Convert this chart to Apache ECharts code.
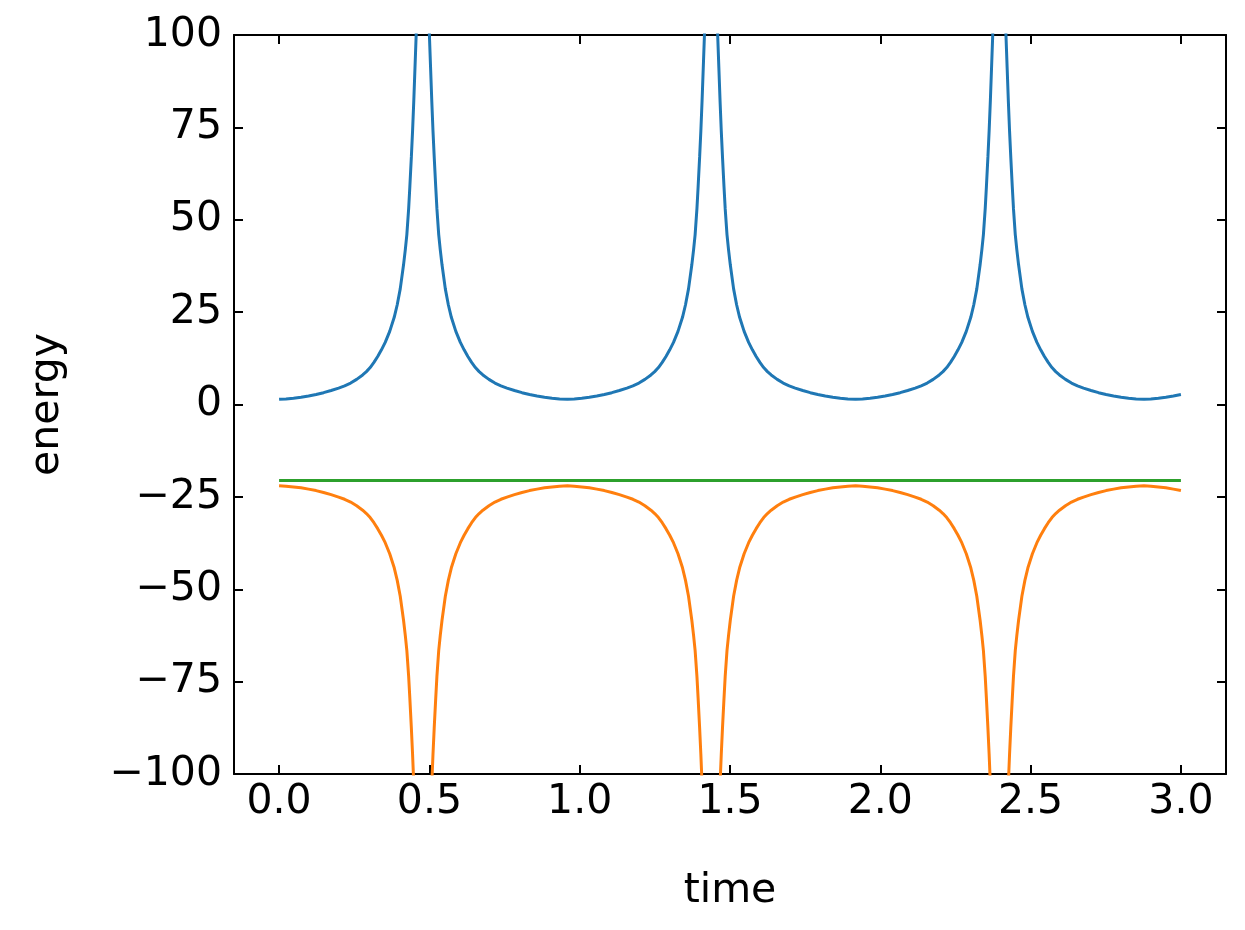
<!DOCTYPE html>
<html>
<head>
<meta charset="utf-8">
<script src="https://cdn.jsdelivr.net/npm/echarts@6/dist/echarts.min.js"></script>
<style>html,body{margin:0;padding:0;background:#fff}#c{width:1245px;height:930px}</style>
</head>
<body>
<div id="c"></div>
<script>
// time samples
const time = [
  0.000, 0.023, 0.048, 0.073, 0.098, 0.123, 0.148, 0.173, 0.198, 0.218, 0.238, 0.258, 0.278, 0.2905, 0.303, 0.3155, 0.328, 0.3405, 0.353, 0.368, 0.383, 0.393, 0.403, 0.414, 0.420, 0.425, 0.431, 0.435, 0.440, 0.444, 0.448, 0.452, 0.456, 0.460, 0.468, 0.478,
  0.488, 0.496, 0.500, 0.504, 0.508, 0.512, 0.516, 0.521, 0.525, 0.531, 0.536, 0.542, 0.553, 0.563, 0.573, 0.588, 0.603, 0.6155, 0.628, 0.6405, 0.653, 0.6655, 0.678, 0.698, 0.718, 0.738, 0.758, 0.783, 0.808, 0.833, 0.858, 0.883, 0.908, 0.933,
  0.959, 0.982, 1.007, 1.032, 1.057, 1.082, 1.107, 1.132, 1.157, 1.177, 1.197, 1.217, 1.237, 1.2495, 1.262, 1.2745, 1.287, 1.2995, 1.312, 1.327, 1.342, 1.352, 1.362, 1.373, 1.379, 1.384, 1.390, 1.394, 1.399, 1.403, 1.407, 1.411, 1.415, 1.419, 1.427, 1.437,
  1.447, 1.455, 1.459, 1.463, 1.467, 1.471, 1.475, 1.480, 1.484, 1.490, 1.495, 1.501, 1.512, 1.522, 1.532, 1.547, 1.562, 1.5745, 1.587, 1.5995, 1.612, 1.6245, 1.637, 1.657, 1.677, 1.697, 1.717, 1.742, 1.767, 1.792, 1.817, 1.842, 1.867, 1.892,
  1.918, 1.941, 1.966, 1.991, 2.016, 2.041, 2.066, 2.091, 2.116, 2.136, 2.156, 2.176, 2.196, 2.2085, 2.221, 2.2335, 2.246, 2.2585, 2.271, 2.286, 2.301, 2.311, 2.321, 2.332, 2.338, 2.343, 2.349, 2.353, 2.358, 2.362, 2.366, 2.370, 2.374, 2.378, 2.386, 2.396,
  2.406, 2.414, 2.418, 2.422, 2.426, 2.430, 2.434, 2.439, 2.443, 2.449, 2.454, 2.460, 2.471, 2.481, 2.491, 2.506, 2.521, 2.5335, 2.546, 2.5585, 2.571, 2.5835, 2.596, 2.616, 2.636, 2.656, 2.676, 2.701, 2.726, 2.751, 2.776, 2.801, 2.826, 2.851,
  2.877, 2.900, 2.925, 2.950, 2.975, 3.000
];
// kinetic energy (blue)
const kinetic = [
  1.4, 1.5, 1.7, 1.95, 2.3, 2.7, 3.2, 3.8, 4.45, 5.05, 5.8, 6.8, 8.0, 8.9, 10.0, 11.4, 13.0, 14.8, 16.8, 19.8, 23.6, 27.0, 31.3, 37.8, 42, 46, 53, 59, 67, 74, 82, 91, 100, 125, 200, 300,
  200, 125, 100, 91, 82, 74, 67, 59, 53, 46, 42, 37.8, 31.3, 27.0, 23.6, 19.8, 16.8, 14.8, 13.0, 11.4, 10.0, 8.9, 8.0, 6.8, 5.8, 5.05, 4.45, 3.8, 3.2, 2.7, 2.3, 1.95, 1.7, 1.5,
  1.4, 1.5, 1.7, 1.95, 2.3, 2.7, 3.2, 3.8, 4.45, 5.05, 5.8, 6.8, 8.0, 8.9, 10.0, 11.4, 13.0, 14.8, 16.8, 19.8, 23.6, 27.0, 31.3, 37.8, 42, 46, 53, 59, 67, 74, 82, 91, 100, 125, 200, 300,
  200, 125, 100, 91, 82, 74, 67, 59, 53, 46, 42, 37.8, 31.3, 27.0, 23.6, 19.8, 16.8, 14.8, 13.0, 11.4, 10.0, 8.9, 8.0, 6.8, 5.8, 5.05, 4.45, 3.8, 3.2, 2.7, 2.3, 1.95, 1.7, 1.5,
  1.4, 1.5, 1.7, 1.95, 2.3, 2.7, 3.2, 3.8, 4.45, 5.05, 5.8, 6.8, 8.0, 8.9, 10.0, 11.4, 13.0, 14.8, 16.8, 19.8, 23.6, 27.0, 31.3, 37.8, 42, 46, 53, 59, 67, 74, 82, 91, 100, 125, 200, 300,
  200, 125, 100, 91, 82, 74, 67, 59, 53, 46, 42, 37.8, 31.3, 27.0, 23.6, 19.8, 16.8, 14.8, 13.0, 11.4, 10.0, 8.9, 8.0, 6.8, 5.8, 5.05, 4.45, 3.8, 3.2, 2.7, 2.3, 1.95, 1.7, 1.5,
  1.4, 1.5, 1.7, 1.95, 2.3, 2.7
];
// potential energy (orange)
const potential = [
  -22.0, -22.1, -22.3, -22.55, -22.9, -23.3, -23.8, -24.4, -25.05, -25.65, -26.4, -27.4, -28.6, -29.5, -30.6, -32.0, -33.6, -35.4, -37.4, -40.4, -44.2, -47.6, -51.9, -58.4, -62.6, -66.6, -73.6, -79.6, -87.6, -94.6, -102.6, -111.6, -120.6, -145.6, -220.6, -320.6,
  -220.6, -145.6, -120.6, -111.6, -102.6, -94.6, -87.6, -79.6, -73.6, -66.6, -62.6, -58.4, -51.9, -47.6, -44.2, -40.4, -37.4, -35.4, -33.6, -32.0, -30.6, -29.5, -28.6, -27.4, -26.4, -25.65, -25.05, -24.4, -23.8, -23.3, -22.9, -22.55, -22.3, -22.1,
  -22.0, -22.1, -22.3, -22.55, -22.9, -23.3, -23.8, -24.4, -25.05, -25.65, -26.4, -27.4, -28.6, -29.5, -30.6, -32.0, -33.6, -35.4, -37.4, -40.4, -44.2, -47.6, -51.9, -58.4, -62.6, -66.6, -73.6, -79.6, -87.6, -94.6, -102.6, -111.6, -120.6, -145.6, -220.6, -320.6,
  -220.6, -145.6, -120.6, -111.6, -102.6, -94.6, -87.6, -79.6, -73.6, -66.6, -62.6, -58.4, -51.9, -47.6, -44.2, -40.4, -37.4, -35.4, -33.6, -32.0, -30.6, -29.5, -28.6, -27.4, -26.4, -25.65, -25.05, -24.4, -23.8, -23.3, -22.9, -22.55, -22.3, -22.1,
  -22.0, -22.1, -22.3, -22.55, -22.9, -23.3, -23.8, -24.4, -25.05, -25.65, -26.4, -27.4, -28.6, -29.5, -30.6, -32.0, -33.6, -35.4, -37.4, -40.4, -44.2, -47.6, -51.9, -58.4, -62.6, -66.6, -73.6, -79.6, -87.6, -94.6, -102.6, -111.6, -120.6, -145.6, -220.6, -320.6,
  -220.6, -145.6, -120.6, -111.6, -102.6, -94.6, -87.6, -79.6, -73.6, -66.6, -62.6, -58.4, -51.9, -47.6, -44.2, -40.4, -37.4, -35.4, -33.6, -32.0, -30.6, -29.5, -28.6, -27.4, -26.4, -25.65, -25.05, -24.4, -23.8, -23.3, -22.9, -22.55, -22.3, -22.1,
  -22.0, -22.1, -22.3, -22.55, -22.9, -23.3
];
// total energy (green)
const totalTime = [0.0, 3.0];
const total = [-20.6, -20.6];

const xTicks = [0.0, 0.5, 1.0, 1.5, 2.0, 2.5, 3.0];
const yTicks = [-100, -75, -50, -25, 0, 25, 50, 75, 100];

const FONT = 'DejaVu Sans';
const FS = 41;
const minus = v => String(v).replace('-', '\u2212');
const pairs = (xs, ys) => xs.map((x, i) => [x, ys[i]]);

const lineAx = { show: true, onZero: false, lineStyle: { color: '#000', width: 2 } };
const tickAx = (vals) => ({ show: true, inside: true, length: 9, customValues: vals, lineStyle: { color: '#000', width: 2 } });

const chart = echarts.init(document.getElementById('c'), null, { renderer: 'canvas' });
chart.setOption({
  animation: false,
  backgroundColor: '#fff',
  grid: { left: 234, right: 19, top: 35, bottom: 156, containLabel: false },
  xAxis: [
    {
      type: 'value', min: -0.15, max: 3.15, position: 'bottom',
      axisLine: lineAx, axisTick: tickAx(xTicks), splitLine: { show: false },
      axisLabel: { customValues: xTicks, formatter: v => minus(v.toFixed(1)), color: '#000', fontFamily: FONT, fontSize: FS, margin: 8 },
      name: 'time', nameLocation: 'middle', nameGap: 97,
      nameTextStyle: { color: '#000', fontFamily: FONT, fontSize: FS }
    },
    {
      type: 'value', min: -0.15, max: 3.15, position: 'top',
      axisLine: lineAx, axisTick: tickAx(xTicks), splitLine: { show: false },
      axisLabel: { show: false }
    }
  ],
  yAxis: [
    {
      type: 'value', min: -100, max: 100, interval: 25, position: 'left',
      axisLine: lineAx, axisTick: tickAx(yTicks), splitLine: { show: false },
      axisLabel: { customValues: yTicks, formatter: v => minus(v), color: '#000', fontFamily: FONT, fontSize: FS, margin: 12 },
      name: 'energy', nameLocation: 'middle', nameGap: 166, nameRotate: 90,
      nameTextStyle: { color: '#000', fontFamily: FONT, fontSize: FS }
    },
    {
      type: 'value', min: -100, max: 100, interval: 25, position: 'right',
      axisLine: lineAx, axisTick: tickAx(yTicks), splitLine: { show: false },
      axisLabel: { show: false }
    }
  ],
  series: [
    { type: 'line', name: 'kinetic', data: pairs(time, kinetic), showSymbol: false, clip: true,
      lineStyle: { color: '#1f77b4', width: 3 }, itemStyle: { color: '#1f77b4' } },
    { type: 'line', name: 'potential', data: pairs(time, potential), showSymbol: false, clip: true,
      lineStyle: { color: '#ff7f0e', width: 3 }, itemStyle: { color: '#ff7f0e' } },
    { type: 'line', name: 'total', data: pairs(totalTime, total), showSymbol: false, clip: true,
      lineStyle: { color: '#2ca02c', width: 3 }, itemStyle: { color: '#2ca02c' } }
  ]
});
</script>
</body>
</html>
